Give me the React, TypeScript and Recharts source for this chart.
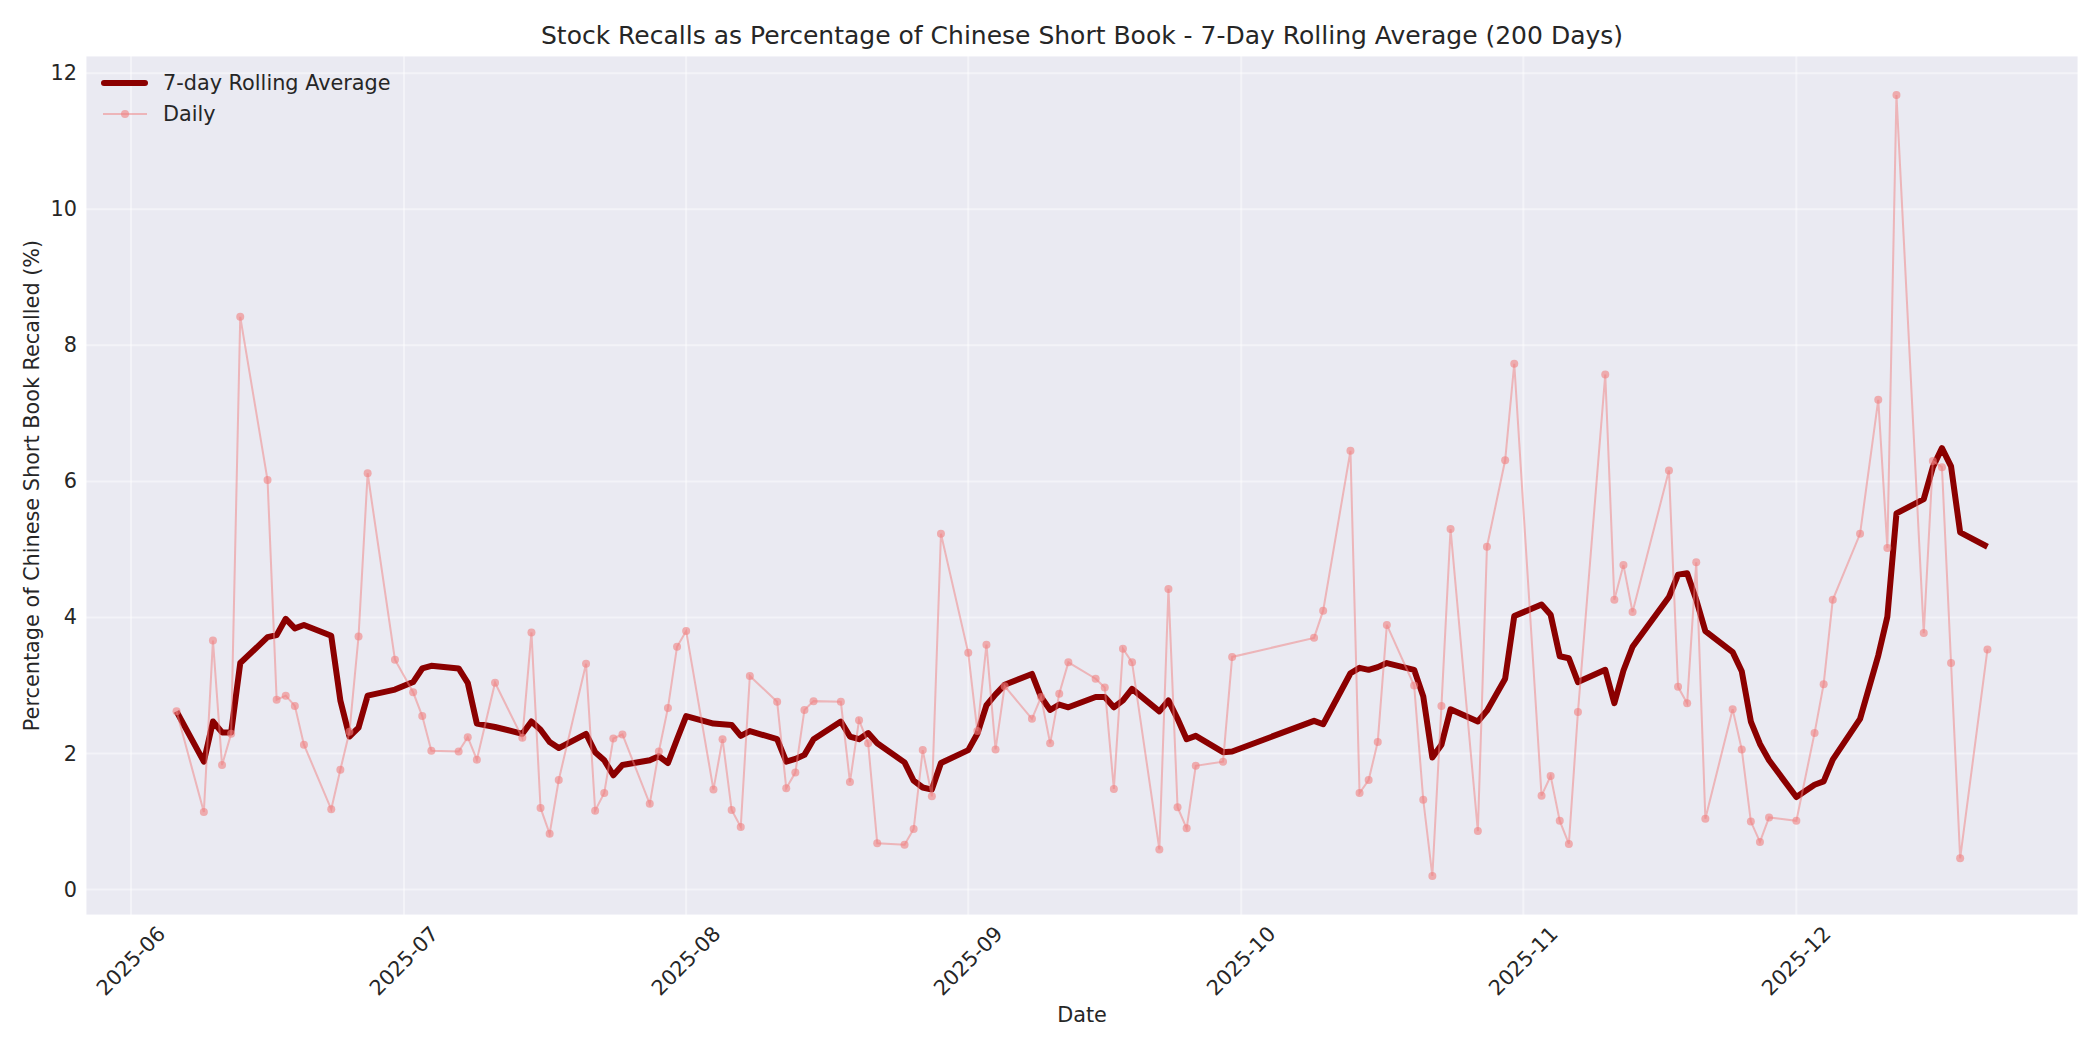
import React from 'react';
import { LineChart, Line, XAxis, YAxis, CartesianGrid } from 'recharts';

const dates: string[] = [
  '2025-06-06','2025-06-09','2025-06-10','2025-06-11','2025-06-12','2025-06-13','2025-06-16','2025-06-17','2025-06-18','2025-06-19','2025-06-20','2025-06-23','2025-06-24','2025-06-25','2025-06-26','2025-06-27','2025-06-30',
  '2025-07-02','2025-07-03','2025-07-04','2025-07-07','2025-07-08','2025-07-09','2025-07-11','2025-07-14','2025-07-15','2025-07-16','2025-07-17','2025-07-18','2025-07-21','2025-07-22','2025-07-23','2025-07-24','2025-07-25','2025-07-28','2025-07-29','2025-07-30','2025-07-31',
  '2025-08-01','2025-08-04','2025-08-05','2025-08-06','2025-08-07','2025-08-08','2025-08-11','2025-08-12','2025-08-13','2025-08-14','2025-08-15','2025-08-18','2025-08-19','2025-08-20','2025-08-21','2025-08-22','2025-08-25','2025-08-26','2025-08-27','2025-08-28','2025-08-29',
  '2025-09-01','2025-09-02','2025-09-03','2025-09-04','2025-09-05','2025-09-08','2025-09-09','2025-09-10','2025-09-11','2025-09-12','2025-09-15','2025-09-16','2025-09-17','2025-09-18','2025-09-19','2025-09-22','2025-09-23','2025-09-24','2025-09-25','2025-09-26','2025-09-29','2025-09-30',
  '2025-10-09','2025-10-10','2025-10-13','2025-10-14','2025-10-15','2025-10-16','2025-10-17','2025-10-20','2025-10-21','2025-10-22','2025-10-23','2025-10-24','2025-10-27','2025-10-28','2025-10-30','2025-10-31',
  '2025-11-03','2025-11-04','2025-11-05','2025-11-06','2025-11-07','2025-11-10','2025-11-11','2025-11-12','2025-11-13','2025-11-17','2025-11-18','2025-11-19','2025-11-20','2025-11-21','2025-11-24','2025-11-25','2025-11-26','2025-11-27','2025-11-28',
  '2025-12-01','2025-12-03','2025-12-04','2025-12-05','2025-12-08','2025-12-10','2025-12-11','2025-12-12','2025-12-15','2025-12-16','2025-12-17','2025-12-18','2025-12-19','2025-12-22',
];

const dailyPct: number[] = [
  2.62,1.14,3.66,1.83,2.29,8.42,6.02,2.79,2.85,2.70,2.13,1.18,1.76,2.32,3.72,6.12,3.38,
  2.90,2.55,2.04,2.03,2.24,1.91,3.04,2.23,3.78,1.20,0.82,1.61,3.32,1.16,1.42,2.22,2.28,1.26,2.03,2.67,3.57,
  3.80,1.47,2.21,1.17,0.92,3.14,2.76,1.49,1.72,2.64,2.77,2.76,1.58,2.49,2.15,0.68,0.66,0.89,2.05,1.37,5.23,
  3.48,2.33,3.60,2.06,2.99,2.51,2.83,2.15,2.88,3.34,3.10,2.97,1.48,3.54,3.34,0.59,4.42,1.21,0.90,1.82,1.88,3.42,
  3.70,4.10,6.45,1.42,1.61,2.17,3.89,3.00,1.32,0.20,2.70,5.30,0.86,5.04,6.31,7.73,
  1.38,1.67,1.01,0.67,2.61,7.57,4.26,4.77,4.08,6.16,2.98,2.74,4.81,1.04,2.65,2.06,1.00,0.70,1.06,
  1.01,2.30,3.02,4.26,5.23,7.20,5.02,11.68,3.77,6.30,6.21,3.33,0.46,3.53,
];

const rollingPct: number[] = [
  2.62,1.88,2.47,2.31,2.31,3.33,3.71,3.74,3.98,3.84,3.89,3.73,2.78,2.25,2.38,2.85,2.94,
  3.05,3.25,3.29,3.25,3.04,2.44,2.39,2.29,2.47,2.35,2.17,2.08,2.29,2.02,1.90,1.68,1.83,1.90,1.96,1.86,2.21,
  2.55,2.44,2.43,2.42,2.26,2.33,2.21,1.88,1.92,1.98,2.21,2.47,2.25,2.21,2.30,2.15,1.87,1.60,1.50,1.47,1.86,
  2.05,2.29,2.71,2.87,3.01,3.17,2.83,2.64,2.72,2.68,2.83,2.83,2.68,2.78,2.95,2.62,2.78,2.51,2.21,2.26,2.02,2.03,
  2.48,2.43,3.18,3.26,3.23,3.27,3.33,3.23,2.84,1.94,2.13,2.65,2.47,2.63,3.10,4.02,
  4.19,4.04,3.43,3.40,3.05,3.23,2.74,3.22,3.57,4.30,4.63,4.65,4.26,3.80,3.49,3.21,2.47,2.14,1.90,
  1.36,1.54,1.59,1.91,2.51,3.44,4.01,5.53,5.74,6.21,6.49,6.22,5.25,5.04,
];

const monthTicks: string[] = ['2025-06-01','2025-07-01','2025-08-01','2025-09-01','2025-10-01','2025-11-01','2025-12-01'];
const monthLabels: string[] = ['2025-06','2025-07','2025-08','2025-09','2025-10','2025-11','2025-12'];
const yTicks: number[] = [0, 2, 4, 6, 8, 10, 12];

const toTs = (d: string) => Date.parse(d + 'T00:00:00Z');

const data = dates.map((d, i) => ({ t: toTs(d), daily: dailyPct[i], rolling: rollingPct[i] }));
const xTickValues = monthTicks.map(toTs);
const labelFor = (v: number) => {
  const i = xTickValues.indexOf(v);
  return i >= 0 ? monthLabels[i] : '';
};

const FONT = '"DejaVu Sans", sans-serif';
const TEXT = '#262626';
const W = 2084;
const H = 1034;
const PLOT_L = 78;
const PLOT_R = 2070;
const PLOT_T = 48;
const PLOT_B = 907;

const XTick = (props: any) => {
  const { x, y, payload } = props;
  const cy = y + 46;
  return (
    <text
      x={x}
      y={cy}
      textAnchor="middle"
      dominantBaseline="central"
      transform={`rotate(-45, ${x}, ${cy})`}
      fontFamily={FONT}
      fontSize={20.8}
      fill={TEXT}
    >
      {labelFor(payload.value)}
    </text>
  );
};

const YTick = (props: any) => {
  const { x, y, payload } = props;
  return (
    <text x={x} y={y} textAnchor="end" dominantBaseline="central" fontFamily={FONT} fontSize={20.8} fill={TEXT}>
      {payload.value}
    </text>
  );
};

export default function App() {
  const midX = (PLOT_L + PLOT_R) / 2;
  const midY = (PLOT_T + PLOT_B) / 2;
  return (
    <div style={{ position: 'relative', width: W, height: H, background: '#ffffff' }}>
      <LineChart width={W} height={H} data={data} margin={{ top: PLOT_T, right: W - PLOT_R, bottom: 27, left: 0 }}>
        <CartesianGrid fill="#EAEAF2" stroke="#ffffff" strokeOpacity={0.45} strokeWidth={2} />
        <XAxis
          dataKey="t"
          type="number"
          scale="linear"
          domain={[(min: number) => min - (toTs('2025-12-22') - toTs('2025-06-06')) * 0.05, (max: number) => max + (toTs('2025-12-22') - toTs('2025-06-06')) * 0.05]}
          ticks={xTickValues}
          allowDataOverflow
          axisLine={false}
          tickLine={false}
          tickSize={0}
          tickMargin={0}
          height={100}
          tick={<XTick />}
          interval={0}
        />
        <YAxis
          type="number"
          domain={[-0.374, 12.254]}
          ticks={yTicks}
          allowDataOverflow
          axisLine={false}
          tickLine={false}
          tickSize={0}
          tickMargin={9}
          width={PLOT_L}
          tick={<YTick />}
          interval={0}
        />
        <Line
          type="linear"
          dataKey="rolling"
          stroke="#8B0000"
          strokeWidth={6}
          strokeLinejoin="round"
          dot={false}
          activeDot={false}
          isAnimationActive={false}
        />
        <Line
          type="linear"
          dataKey="daily"
          stroke="#F08080"
          strokeOpacity={0.5}
          strokeWidth={2}
          dot={{ r: 4, fill: '#F08080', fillOpacity: 0.6, stroke: 'none' }}
          activeDot={false}
          isAnimationActive={false}
        />
      </LineChart>
      <svg width={W} height={H} style={{ position: 'absolute', left: 0, top: 0, pointerEvents: 'none' }}>
        <text x={midX} y={27} textAnchor="middle" dominantBaseline="central" fontFamily={FONT} fontSize={25} fill={TEXT}>
          Stock Recalls as Percentage of Chinese Short Book - 7-Day Rolling Average (200 Days)
        </text>
        <text x={midX} y={1007} textAnchor="middle" dominantBaseline="central" fontFamily={FONT} fontSize={20.8} fill={TEXT}>
          Date
        </text>
        <text
          x={24}
          y={midY}
          textAnchor="middle"
          dominantBaseline="central"
          transform={`rotate(-90, 24, ${midY})`}
          fontFamily={FONT}
          fontSize={20.8}
          fill={TEXT}
        >
          Percentage of Chinese Short Book Recalled (%)
        </text>
        <line x1={96} y1={75} x2={137} y2={75} stroke="#8B0000" strokeWidth={6} strokeLinecap="round" />
        <text x={155} y={75} dominantBaseline="central" fontFamily={FONT} fontSize={20.8} fill={TEXT}>
          7-day Rolling Average
        </text>
        <line x1={95} y1={106} x2={139} y2={106} stroke="#F08080" strokeOpacity={0.5} strokeWidth={2} />
        <circle cx={117} cy={106} r={4} fill="#F08080" fillOpacity={0.6} />
        <text x={155} y={106} dominantBaseline="central" fontFamily={FONT} fontSize={20.8} fill={TEXT}>
          Daily
        </text>
      </svg>
    </div>
  );
}
